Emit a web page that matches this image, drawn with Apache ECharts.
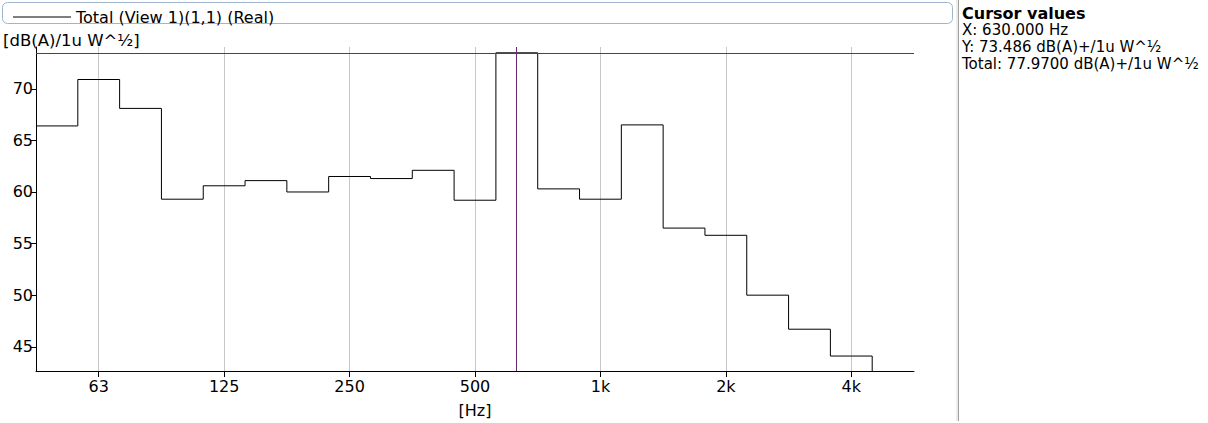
<!DOCTYPE html>
<html>
<head>
<meta charset="utf-8">
<script src="https://cdn.jsdelivr.net/npm/echarts@6/dist/echarts.min.js"></script>
<style>
html,body{margin:0;padding:0;background:#fff;}
#chart{width:1208px;height:423px;}
</style>
</head>
<body>
<div id="chart"></div>
<script>
// Third-octave band nominal centre frequencies [Hz]
var bands = [50, 63, 80, 100, 125, 160, 200, 250, 315, 400, 500, 630, 800, 1000, 1250, 1600, 2000, 2500, 3150, 4000];
// Band levels [dB(A)/1u W^1/2]
var levels = [66.4, 70.9, 68.1, 59.3, 60.6, 61.1, 60.0, 61.5, 61.3, 62.1, 59.2, 73.486, 60.3, 59.3, 66.5, 56.5, 55.8, 50.0, 46.7, 44.1];
// X tick frequencies (octave centres) and their labels
var tickFreqs = [62.5, 125, 250, 500, 1000, 2000, 4000];
var tickLabels = ['63', '125', '250', '500', '1k', '2k', '4k'];
var yTicks = [45, 50, 55, 60, 65, 70];
var cursorFreq = 630;
var cursorLevel = 73.486;
var legendName = 'Total (View 1)(1,1) (Real)';
var yUnit = '[dB(A)/1u W^\u00BD]';
var xUnit = '[Hz]';
var cursorLines = ['X: 630.000 Hz', 'Y: 73.486 dB(A)+/1u W^\u00BD', 'Total: 77.9700 dB(A)+/1u W^\u00BD'];

var FONT = 'DejaVu Sans, sans-serif';
function oct(f) { return Math.log(f / 1000) / Math.LN2; }

var Y_MIN = 42.65, Y_MAX = 74.05;
var X_MIN = -4.5, X_MAX = 2.5;

// build step outline: each band is a horizontal segment over its third-octave width
var pts = [];
for (var i = 0; i < bands.length; i++) {
  var c = i - 13; // band index relative to 1 kHz
  var lo = (c - 0.5) / 3, hi = (c + 0.5) / 3;
  pts.push([lo, levels[i]]);
  pts.push([hi, levels[i]]);
}
pts.push([pts[pts.length - 1][0], Y_MIN]);

var tickVals = tickFreqs.map(oct);

var chart = echarts.init(document.getElementById('chart'), null, {renderer: 'svg'});
chart.setOption({
  animation: false,
  backgroundColor: '#fff',
  textStyle: {fontFamily: FONT},
  grid: {left: 36, right: 294, top: 47, bottom: 51, containLabel: false},
  legend: {
    show: true,
    left: 8, top: 4,
    itemWidth: 58, itemHeight: 14, itemGap: 6,
    textStyle: {fontFamily: FONT, fontSize: 16, color: '#000'},
    data: [{name: legendName, icon: 'path://M0,7H58V8H0Z', itemStyle: {color: '#000'}}]
  },
  xAxis: {
    type: 'value', min: X_MIN, max: X_MAX,
    name: xUnit, nameLocation: 'middle', nameGap: 31,
    nameTextStyle: {fontFamily: FONT, fontSize: 16, color: '#000'},
    axisLine: {show: true, onZero: false, lineStyle: {color: '#000', width: 1}},
    axisTick: {show: true, customValues: tickVals, length: 6, lineStyle: {color: '#000'}},
    axisLabel: {show: true, customValues: tickVals, margin: 7, color: '#000', fontSize: 16, fontFamily: FONT,
      formatter: function (v) { for (var k = 0; k < tickVals.length; k++) { if (Math.abs(tickVals[k] - v) < 1e-6) return tickLabels[k]; } return ''; }},
    splitLine: {show: true, lineStyle: {color: '#c8c8c8', width: 1}}
  },
  yAxis: {
    type: 'value', min: Y_MIN, max: Y_MAX,
    axisLine: {show: true, onZero: false, lineStyle: {color: '#000', width: 1}},
    axisTick: {show: true, customValues: yTicks, length: 5, lineStyle: {color: '#000'}},
    axisLabel: {show: true, customValues: yTicks, margin: 3, color: '#000', fontSize: 16, fontFamily: FONT},
    splitLine: {show: false}
  },
  graphic: [
    {type: 'rect', shape: {x: 2.5, y: 2.5, width: 950, height: 21, r: 5}, style: {fill: 'none', stroke: '#9fb4cf', lineWidth: 1}, z: -1},
    {type: 'rect', shape: {x: 956, y: 0, width: 2, height: 421}, style: {fill: '#ececec'}, silent: true},
    {type: 'rect', shape: {x: 958, y: 0, width: 1, height: 421}, style: {fill: '#a0a0a0'}, silent: true},
    {type: 'text', x: 3, y: 32, style: {text: yUnit, fontFamily: FONT, fontSize: 16.5, fill: '#000'}},
    {type: 'text', x: 962, y: 5, style: {text: 'Cursor values', fontFamily: FONT, fontSize: 16, fontWeight: 'bold', fill: '#000'}},
    {type: 'text', x: 962, y: 22, style: {text: cursorLines[0], fontFamily: FONT, fontSize: 15, fill: '#000'}},
    {type: 'text', x: 962, y: 39, style: {text: cursorLines[1], fontFamily: FONT, fontSize: 15, fill: '#000'}},
    {type: 'text', x: 962, y: 56, style: {text: cursorLines[2], fontFamily: FONT, fontSize: 15, fill: '#000'}}
  ],
  series: [{
    name: legendName,
    type: 'line',
    data: pts,
    showSymbol: false,
    symbol: 'none',
    lineStyle: {color: '#000', width: 1},
    itemStyle: {color: '#000'},
    clip: true,
    markLine: {
      silent: true, symbol: 'none', label: {show: false},
      lineStyle: {color: '#6b2a72', width: 1, type: 'solid'},
      data: [{xAxis: oct(cursorFreq)}, {yAxis: cursorLevel}]
    }
  }]
});
</script>
</body>
</html>
